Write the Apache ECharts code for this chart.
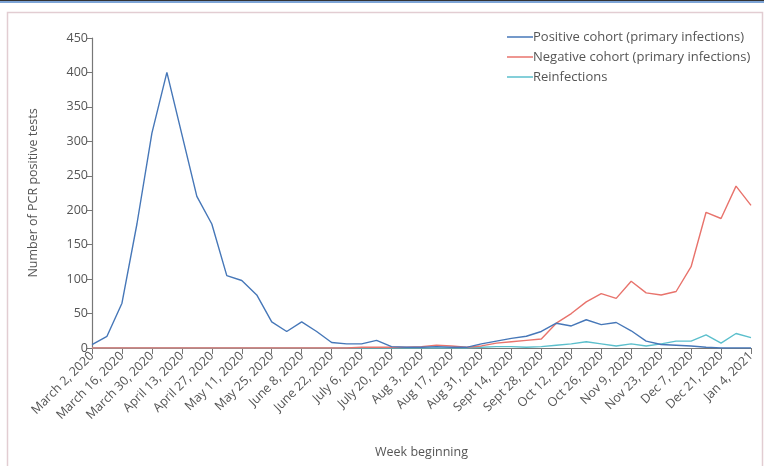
<!DOCTYPE html>
<html>
<head>
<meta charset="utf-8">
<script src="https://cdn.jsdelivr.net/npm/echarts@6/dist/echarts.min.js"></script>
<style>
html,body{margin:0;padding:0;background:#fff;}
#chart{width:764px;height:466px;}
</style>
</head>
<body>
<div id="chart"></div>
<script>
const weeks = [
 "March 2, 2020","March 9, 2020","March 16, 2020","March 23, 2020","March 30, 2020",
 "April 6, 2020","April 13, 2020","April 20, 2020","April 27, 2020",
 "May 4, 2020","May 11, 2020","May 18, 2020","May 25, 2020",
 "June 1, 2020","June 8, 2020","June 15, 2020","June 22, 2020","June 29, 2020",
 "July 6, 2020","July 13, 2020","July 20, 2020","July 27, 2020",
 "Aug 3, 2020","Aug 10, 2020","Aug 17, 2020","Aug 24, 2020","Aug 31, 2020",
 "Sept 7, 2020","Sept 14, 2020","Sept 21, 2020","Sept 28, 2020",
 "Oct 5, 2020","Oct 12, 2020","Oct 19, 2020","Oct 26, 2020",
 "Nov 2, 2020","Nov 9, 2020","Nov 16, 2020","Nov 23, 2020","Nov 30, 2020",
 "Dec 7, 2020","Dec 14, 2020","Dec 21, 2020","Dec 28, 2020",
 "Jan 4, 2021"
];
const positiveCohort = [5,17,65,180,312,400,310,220,180,105,98,77,38,24,38,24,8,6,6,11,2,1,1,2,1,1,6,10,14,17,24,36,32,41,34,37,25,10,5,4,3,1,0,0,0];
const negativeCohort = [0,0,0,0,0,0,0,0,0,0,0,0,0,0,0,0,0,0,1,1,1,1,2,4,3,1,3,7,9,11,13,36,50,67,79,72,97,80,77,82,118,197,188,235,207];
const reinfections   = [0,0,0,0,0,0,0,0,0,0,0,0,0,0,0,0,0,0,0,0,0,0,0,0,0,0,1,2,2,1,2,4,6,9,6,3,6,3,6,10,10,19,7,21,15];
const seriesNames = ["Positive cohort (primary infections)","Negative cohort (primary infections)","Reinfections"];
const yMin = 0, yMax = 450, yStep = 50;

const font = '"Open Sans", "DejaVu Sans", sans-serif';
const txt = '#555';
const axisCol = '#777';

const chart = echarts.init(document.getElementById('chart'), null, {renderer:'canvas'});
chart.setOption({
  backgroundColor:'#fff',
  animation:false,
  textStyle:{fontFamily:font,color:txt},
  graphic:[
    {type:'rect',shape:{x:0,y:0,width:764,height:1},style:{fill:'#333'}},
    {type:'rect',shape:{x:0,y:1,width:764,height:2},style:{fill:'#7da4d6'}},
    {type:'rect',shape:{x:7.5,y:12.5,width:755,height:460},style:{fill:'none',stroke:'#e2cdd2',lineWidth:1.5}}
  ],
  legend:{
    orient:'vertical',left:502,top:23,
    icon:'rect',itemWidth:26,itemHeight:1.5,itemGap:2,
    textStyle:{fontFamily:font,fontSize:13,color:txt,padding:[0,0,0,-5],lineHeight:18},
    data:seriesNames
  },
  grid:{left:92,right:13,top:38,bottom:118,containLabel:false},
  xAxis:{
    type:'category',data:weeks,boundaryGap:false,
    name:'Week beginning',nameLocation:'middle',nameGap:98,
    nameTextStyle:{fontFamily:font,fontSize:12.5,color:txt},
    axisLine:{lineStyle:{color:axisCol,width:1.2}},
    axisTick:{interval:1,length:6,lineStyle:{color:axisCol}},
    axisLabel:{interval:1,rotate:45,fontFamily:font,fontSize:12.5,color:txt,margin:6}
  },
  yAxis:{
    type:'value',min:yMin,max:yMax,interval:yStep,
    name:'Number of PCR positive tests',nameLocation:'middle',nameGap:52,
    nameTextStyle:{fontFamily:font,fontSize:12.5,color:txt},
    splitLine:{show:false},
    axisLine:{show:true,lineStyle:{color:axisCol,width:1.2}},
    axisTick:{show:true,length:5,lineStyle:{color:axisCol}},
    axisLabel:{fontFamily:font,fontSize:12.5,color:txt,margin:4}
  },
  series:[
    {name:seriesNames[0],type:'line',data:positiveCohort,symbol:'none',z:3,
     lineStyle:{color:'#4677b8',width:1.4},itemStyle:{color:'#4677b8'}},
    {name:seriesNames[1],type:'line',data:negativeCohort,symbol:'none',z:2,
     lineStyle:{color:'#e8736c',width:1.4},itemStyle:{color:'#e8736c'}},
    {name:seriesNames[2],type:'line',data:reinfections,symbol:'none',z:1,
     lineStyle:{color:'#5bbfcc',width:1.4},itemStyle:{color:'#5bbfcc'}}
  ]
});
</script>
</body>
</html>
